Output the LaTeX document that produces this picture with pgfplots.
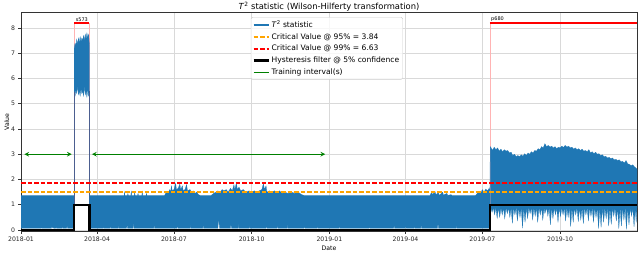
\documentclass[border=0pt]{standalone}
\usepackage{pgfplots}
\pgfplotsset{compat=1.18}
\usepackage{fontspec}
\setmainfont{DejaVu Sans}
\definecolor{tblue}{HTML}{1F77B4}
\definecolor{tgreen}{HTML}{008000}
\definecolor{torange}{HTML}{FFA500}
\definecolor{tred}{HTML}{FF0000}
\definecolor{tpink}{HTML}{FFB3B3}
\begin{document}
\begin{tikzpicture}
\begin{axis}[name=ax, scale only axis, width=616bp, height=218.3bp,
  xmin=0, xmax=729, ymin=-0.04, ymax=8.6,
  xtick={0,90,181,273,365,455,546,638},
  xticklabels={2018-01,2018-04,2018-07,2018-10,2019-01,2019-04,2019-07,2019-10},
  ytick={0,1,2,3,4,5,6,7,8},
  /pgf/number format/assume math mode=true,
  tick label style={font=\fontsize{6.2}{7}\selectfont, black!85},
  label style={font=\fontsize{6.2}{7}\selectfont},
  xlabel={Date}, ylabel={Value},
  xlabel style={yshift=3pt},
  ylabel style={yshift=-5pt},
  grid=major, grid style={line width=0.6pt, color=black!15},
  axis line style={black!80, line width=0.6pt},
  tick style={black!80, line width=0.5pt}, tick align=outside, major tick length=2.5bp,
  xtick pos=bottom, ytick pos=left,
  legend cell align=left,
  legend style={at={(0.373,0.98)}, anchor=north west, font=\fontsize{7.6}{8.5}\selectfont,
    draw=black!20, fill=white, fill opacity=0.8, text opacity=1, rounded corners=1.5pt,
    row sep=0.5pt, inner sep=1.5pt,
    /tikz/every even column/.append style={column sep=2bp}},
  legend image code/.code={\draw[#1, opacity=1] (0bp,0bp) -- (15bp,0bp);},
]
\addlegendimage{draw=tblue, line width=1.4pt}
\addlegendentry{\textit{T}\textsuperscript{2} statistic}
\addlegendimage{draw=torange, dash pattern=on 4.5bp off 2bp, line width=1.7pt}
\addlegendentry{Critical Value @ 95\% = 3.84}
\addlegendimage{draw=tred, dash pattern=on 4.5bp off 2bp, line width=1.7pt}
\addlegendentry{Critical Value @ 99\% = 6.63}
\addlegendimage{draw=black, line width=2.2pt}
\addlegendentry{Hysteresis filter @ 5\% confidence}
\addlegendimage{draw=tgreen, line width=1.4pt}
\addlegendentry{Training interval(s)}

% anomaly markers (pink vertical lines)
\addplot[forget plot, tpink, line width=0.8pt] coordinates {(63,-0.04) (63,8.19)};
\addplot[forget plot, tpink, line width=0.8pt] coordinates {(81,-0.04) (81,8.19)};
\addplot[forget plot, tpink, line width=0.8pt] coordinates {(555,-0.04) (555,8.19)};

% T^2 statistic, segment A (envelope)
\addplot[forget plot, fill=tblue, draw=tblue, line width=0.2pt] coordinates {
(0,1.37) (63,1.37)
(63,0.07) (55,0.07) (54.5,0.18) (54,0.07) (50,0.07) (49.5,0.15) (49,0.07) (42,0.07) (41.5,0.12) (41,0.07)
(39,0.07) (38.5,0.16) (38,0.07) (36.5,0.13) (36,0.07) (25,0.07) (24.5,0.1) (24,0.07) (0,0.07)
};
% anomaly s573
\addplot[forget plot, fill=tblue, draw=tblue, line width=0.2pt] coordinates {
(63,7.2) (64,7.4) (65,7.3) (66,7.55) (67,7.35) (68,7.6) (69,7.4) (70,7.65) (71,7.45) (72,7.6) (73,7.5)
(74,7.7) (75,7.5) (76,7.75) (77,7.55) (78,7.8) (79,7.6) (80,7.75) (81,7.3)
(81,5.5) (80,5.3) (79,5.6) (78,5.25) (77,5.5) (76,5.35) (75,5.7) (74,5.3) (73,5.5) (72,5.4) (71,5.6)
(70,5.3) (69,5.5) (68,5.35) (67,5.7) (66,5.4) (65,5.55) (64,5.3) (63,5.45)
};
\addplot[forget plot, tblue!80!red, line width=0.5pt] coordinates {(63,0.07) (63,5.45)};
\addplot[forget plot, tblue!80!red, line width=0.5pt] coordinates {(81,0.07) (81,5.5)};
% segment B
\addplot[forget plot, fill=tblue, draw=tblue, line width=0.2pt] coordinates {
(81,1.37) (120,1.37)
(122,1.37) (122.5,1.5) (123,1.37) (126,1.37) (126.5,1.45) (127,1.37) (130,1.37) (130.5,1.55) (131,1.37)
(134,1.37) (134.5,1.5) (135,1.37) (138,1.37) (138.5,1.45) (139,1.37) (143,1.37) (143.5,1.52) (144,1.37)
(148,1.37) (148.5,1.45) (149,1.37)
(170,1.37) (172,1.5) (174,1.45) (176,1.6) (177,1.5) (178,1.75) (179,1.55) (181,1.6) (183,1.85) (184,1.6)
(186,1.65) (188,1.82) (189,1.6) (191,1.75) (192,1.55) (194,1.6) (196,1.8) (197,1.55) (200,1.6) (202,1.5)
(204,1.55) (206,1.45) (208,1.5) (210,1.4) (212,1.37)
(225,1.37) (228,1.45) (231,1.5) (233,1.55) (236,1.5) (238,1.6) (240,1.55) (243,1.6) (245,1.5) (248,1.65)
(250,1.55) (252,1.8) (253,1.6) (255,1.88) (256,1.6) (258,1.7) (260,1.55) (263,1.6) (266,1.5) (270,1.55)
(273,1.5) (276,1.55) (279,1.5) (282,1.55) (285,1.6) (287,1.85) (288,1.6) (290,1.75) (291,1.5) (294,1.55)
(297,1.5) (300,1.55) (303,1.5) (306,1.55) (309,1.45) (312,1.5) (316,1.45) (320,1.5) (324,1.45) (328,1.5)
(332,1.4) (335,1.37)
(484,1.37) (486,1.5) (487,1.4) (490,1.52) (491,1.4) (494,1.48) (495,1.37) (499,1.5) (500,1.38) (504,1.45)
(505,1.37) (509,1.4) (510,1.37)
(538,1.37) (540,1.45) (542,1.5) (544,1.45) (546,1.6) (548,1.5) (550,1.62) (552,1.55) (554,1.65) (555,1.6)
(555,0.07) (516,0.07) (515.5,0.2) (515,0.07) (494,0.07) (493.5,0.35) (493,0.07) (474,0.07) (473.5,0.2) (473,0.07)
(466,0.07) (465.5,0.15) (465,0.07) (456,0.07) (455.5,0.15) (455,0.07) (442,0.07) (441.5,0.2) (441,0.07)
(413,0.07) (412.5,0.15) (412,0.07) (377,0.07) (376.5,0.15) (376,0.07) (351,0.07) (350.5,0.15) (350,0.07)
(336,0.07) (335.5,0.2) (335,0.07) (316,0.07) (315.5,0.25) (315,0.07) (304,0.07) (303.5,0.3) (303,0.07)
(291,0.07) (290.5,0.25) (290,0.07) (271,0.07) (270.5,0.2) (270,0.07) (258,0.07) (257.5,0.3) (257,0.07)
(249,0.07) (248.5,0.3) (248,0.07) (235,0.07) (234,0.45) (233,0.07) (216,0.07) (215.5,0.2) (215,0.07)
(201,0.07) (200.5,0.25) (200,0.07) (186,0.07) (185.5,0.2) (185,0.07) (158,0.07) (157.5,0.2) (157,0.07)
(134,0.07) (133.5,0.35) (133,0.07) (126,0.07) (125.5,0.25) (125,0.07) (116,0.07) (115.5,0.2) (115,0.07)
(106,0.07) (105.5,0.15) (105,0.07) (98,0.07) (97.5,0.12) (97,0.07) (81,0.07)
};
% anomaly p680
\addplot[forget plot, fill=tblue, draw=tblue, line width=0.2pt] coordinates {
(555.5,3.3) (558,3.15) (560,3.28) (562,3.18) (564,3.25) (566,3.12) (568,3.2) (570,3.1) (572,3.18) (574,3.12)
(576,3.15) (578,3.05) (580,3.08) (582,2.95) (584,3.0) (586,2.9) (588,2.95) (590,2.9) (592,2.98) (594,2.92)
(596,3.02) (598,2.95) (600,3.05) (602,3.0) (604,3.1) (606,3.05) (608,3.15) (610,3.12) (612,3.22) (614,3.18)
(616,3.3) (618,3.25) (620,3.42) (622,3.3) (624,3.35) (626,3.28) (628,3.32) (630,3.25) (632,3.3) (634,3.22)
(636,3.28) (638,3.25) (640,3.32) (642,3.27) (644,3.35) (646,3.28) (648,3.32) (650,3.25) (652,3.28) (654,3.2)
(656,3.25) (658,3.18) (660,3.22) (662,3.15) (664,3.2) (666,3.12) (668,3.15) (670,3.1) (672,3.18) (674,3.05)
(676,3.1) (678,3.02) (680,3.08) (682,3.0) (684,3.02) (686,2.95) (688,2.98) (690,2.9) (692,2.92) (694,2.85)
(696,2.88) (698,2.82) (700,2.85) (702,2.78) (704,2.8) (706,2.75) (708,2.78) (710,2.7) (712,2.72) (714,2.65)
(716,2.75) (718,2.62) (720,2.6) (722,2.55) (724,2.58) (726,2.5) (728,2.45) (729,2.4)
(729,0.88) (728,0.3) (727,0.88) (725.5,0.12) (724,0.88) (722.5,0.55) (721,0.88) (719.5,0.2) (718,0.88)
(716.5,0.02) (715,0.88) (713.5,0.4) (712,0.88) (710.5,0.15) (709,0.88) (707.5,0.05) (706,0.88) (704.5,0.35)
(703,0.88) (701.5,0.55) (700,0.88) (698.5,0.22) (697,0.88) (695.5,0.15) (694,0.88) (692.5,0.45) (691,0.88)
(689.5,0.3) (688,0.88) (686.5,0.1) (685,0.88) (683.5,0.05) (682,0.88) (680.5,0.5) (679,0.88) (677.5,0.3)
(676,0.88) (674.5,0.55) (673,0.88) (671.5,0.35) (670,0.88) (668.5,0.6) (667,0.88) (665.5,0.25) (664,0.88)
(662.5,0.4) (661,0.88) (659.5,0.33) (658,0.88) (656.5,0.6) (655,0.88) (653.5,0.3) (652,0.88) (650.5,0.13)
(649,0.88) (647.5,0.5) (646,0.88) (644.5,0.35) (643,0.88) (641.5,0.6) (640,0.88) (638.5,0.53) (637,0.88)
(635.5,0.3) (634,0.88) (632.5,0.6) (631,0.88) (629.5,0.45) (628,0.88) (626.5,0.2) (625,0.88) (623.5,0.55)
(622,0.88) (620,0.65) (619,0.88) (617.5,0.4) (616,0.88) (614.5,0.6) (613,0.88) (611.5,0.3) (610,0.88)
(608.5,0.55) (607,0.88) (605.5,0.4) (604,0.88) (602.5,0.65) (601,0.88) (599.5,0.45) (598,0.88) (596.5,0.3)
(595,0.88) (593.5,0.07) (592,0.88) (590.5,0.5) (589,0.88) (587.5,0.35) (586,0.88) (584.5,0.6) (583,0.88)
(581.5,0.26) (580,0.88) (578.5,0.5) (577,0.88) (575.5,0.65) (574,0.88) (572.5,0.45) (571,0.88) (569.5,0.6)
(568,0.88) (566.5,0.5) (565,0.88) (563.5,0.46) (562,0.88) (560.5,0.6) (559,0.88) (557.5,0.7) (556,0.88)
(555.5,0.88)
};
\addplot[forget plot, tblue, line width=0.5pt] coordinates {(555,1.6) (555.5,3.3)};

% critical values
\addplot[forget plot, draw=torange, dash pattern=on 4.5bp off 2bp, line width=1.7pt] coordinates {(0,1.51) (729,1.51)};
\addplot[forget plot, draw=tred, dash pattern=on 4.5bp off 2bp, line width=1.7pt] coordinates {(0,1.85) (729,1.85)};

% hysteresis filter
\addplot[forget plot, draw=black, line width=2.2pt] coordinates {
(0,0) (63,0) (63,1) (81,1) (81,0) (555,0) (555,1) (729,1)};

% training intervals
\addplot[forget plot, draw=tgreen, line width=1.1pt, <->, >=stealth] coordinates {(4,3) (60,3)};
\addplot[forget plot, draw=tgreen, line width=1.1pt, <->, >=stealth] coordinates {(84,3) (360,3)};

% anomaly labels
\addplot[forget plot, draw=tred, line width=1.8pt] coordinates {(63,8.19) (81,8.19)};
\addplot[forget plot, draw=tred, line width=1.8pt] coordinates {(555,8.19) (729,8.19)};
\node[font=\fontsize{5}{5}\selectfont, anchor=south, inner sep=1pt] at (axis cs:72,8.19) {s573};
\node[font=\fontsize{5}{5}\selectfont, anchor=south west, inner sep=1pt] at (axis cs:555,8.19) {p680};
\end{axis}
\node[anchor=base, inner sep=0pt, font=\fontsize{8.4}{10}\selectfont] at ([yshift=3.2bp]ax.north)
  {\textit{T}\textsuperscript{2} statistic (Wilson-Hilferty transformation)};
\path (ax.south west) ++(-21bp,-23bp) coordinate (bbA);
\path (ax.north east) ++(3bp,12.7bp) coordinate (bbB);
\pgfresetboundingbox
\useasboundingbox (bbA) rectangle (bbB);
\end{tikzpicture}
\end{document}
